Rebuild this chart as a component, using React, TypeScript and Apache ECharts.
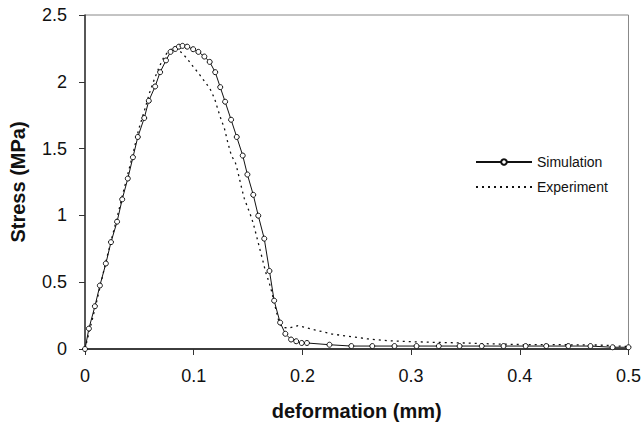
import React, { useEffect, useRef } from "react";
import * as echarts from "echarts";

const simX = [0, 0.0036, 0.0091, 0.0137, 0.0192, 0.0239, 0.0295, 0.0342, 0.0394, 0.0441, 0.0486, 0.0545, 0.0587, 0.0645, 0.0691, 0.0745, 0.0787, 0.083, 0.0864, 0.0897, 0.094, 0.0995, 0.1043, 0.1098, 0.1147, 0.1198, 0.1244, 0.1289, 0.1344, 0.1396, 0.1451, 0.1494, 0.1548, 0.1594, 0.1649, 0.1697, 0.174, 0.1795, 0.1843, 0.1896, 0.1943, 0.1994, 0.2042, 0.2249, 0.245, 0.2643, 0.2847, 0.305, 0.3255, 0.3446, 0.365, 0.385, 0.4054, 0.4243, 0.4446, 0.465, 0.4854, 0.5];
const simY = [0, 0.153, 0.32, 0.475, 0.64, 0.8, 0.953, 1.12, 1.276, 1.435, 1.587, 1.729, 1.858, 1.965, 2.072, 2.16, 2.224, 2.246, 2.263, 2.269, 2.263, 2.244, 2.224, 2.189, 2.149, 2.072, 1.96, 1.851, 1.716, 1.587, 1.448, 1.306, 1.154, 0.998, 0.826, 0.584, 0.362, 0.198, 0.114, 0.071, 0.058, 0.045, 0.045, 0.032, 0.022, 0.022, 0.022, 0.022, 0.022, 0.022, 0.022, 0.022, 0.022, 0.022, 0.022, 0.022, 0.013, 0.013];

const expX = [0, 0.01, 0.02, 0.03, 0.036, 0.0401, 0.0447, 0.0493, 0.0554, 0.0593, 0.0636, 0.0682, 0.0721, 0.0757, 0.0797, 0.085, 0.0933, 0.0995, 0.1056, 0.1107, 0.1147, 0.1193, 0.1223, 0.1253, 0.1282, 0.1314, 0.1346, 0.1384, 0.1405, 0.1444, 0.1466, 0.1521, 0.1548, 0.1578, 0.1609, 0.1642, 0.1663, 0.1694, 0.1718, 0.174, 0.1786, 0.1816, 0.1877, 0.1953, 0.2014, 0.212, 0.2272, 0.2424, 0.2607, 0.2789, 0.3029, 0.3212, 0.3485, 0.3793, 0.4097, 0.4398, 0.4705, 0.4854, 0.4994];
const expY = [0, 0.33, 0.68, 1.0, 1.2, 1.331, 1.48, 1.642, 1.804, 1.916, 2.015, 2.11, 2.177, 2.219, 2.245, 2.25, 2.18, 2.114, 2.052, 1.995, 1.953, 1.873, 1.791, 1.716, 1.653, 1.545, 1.45, 1.393, 1.33, 1.194, 1.125, 1.007, 0.94, 0.846, 0.746, 0.642, 0.572, 0.498, 0.428, 0.348, 0.199, 0.162, 0.157, 0.174, 0.164, 0.142, 0.112, 0.095, 0.075, 0.062, 0.054, 0.05, 0.045, 0.037, 0.032, 0.032, 0.03, 0.025, 0.018];

const seriesNames = ["Simulation", "Experiment"];
const xTitle = "deformation (mm)";
const yTitle = "Stress (MPa)";

const FONT = "'Liberation Sans', Arial, Helvetica, sans-serif";

export default function App() {
  const ref = useRef<HTMLDivElement>(null);
  useEffect(() => {
    document.body.style.margin = "0";
    const chart = echarts.init(ref.current!, null, { renderer: "svg" });
    chart.setOption({
      animation: false,
      backgroundColor: "#ffffff",
      textStyle: { fontFamily: FONT },
      grid: {
        left: 81,
        right: 15,
        top: 15,
        bottom: 75,
        show: true,
        borderColor: "#888888",
        borderWidth: 1,
        backgroundColor: "transparent",
      },
      legend: {
        orient: "vertical",
        left: 470,
        top: 150,
        itemWidth: 56,
        itemHeight: 7,
        itemGap: 11,
        textStyle: { fontFamily: FONT, fontSize: 14, color: "#111" },
        data: [
          { name: seriesNames[0] },
          { name: seriesNames[1], itemStyle: { color: "transparent", borderColor: "transparent", borderWidth: 0 } },
        ],
      },
      xAxis: {
        type: "value",
        min: 0,
        max: 0.5,
        interval: 0.1,
        name: xTitle,
        nameLocation: "middle",
        nameGap: 52,
        nameTextStyle: { fontFamily: FONT, fontSize: 20, fontWeight: "bold", color: "#111" },
        axisLine: { show: true, lineStyle: { color: "#111", width: 1.5 } },
        axisTick: { show: true, inside: false, length: 6, lineStyle: { color: "#333" } },
        axisLabel: { fontFamily: FONT, fontSize: 18, color: "#111", margin: 18 },
        splitLine: { show: false },
      },
      yAxis: {
        type: "value",
        min: 0,
        max: 2.5,
        interval: 0.5,
        name: yTitle,
        nameLocation: "middle",
        nameGap: 57,
        nameRotate: 90,
        nameTextStyle: { fontFamily: FONT, fontSize: 20, fontWeight: "bold", color: "#111" },
        axisLine: { show: true, lineStyle: { color: "#333", width: 1.5 } },
        axisTick: { show: true, inside: false, length: 6, lineStyle: { color: "#333" } },
        axisLabel: { fontFamily: FONT, fontSize: 18, color: "#111", margin: 18 },
        splitLine: { show: false },
      },
      series: [
        {
          name: seriesNames[0],
          type: "line",
          data: simX.map((x, i) => [x, simY[i]]),
          symbol: "circle",
          symbolSize: 5,
          showAllSymbol: true,
          clip: false,
          itemStyle: { color: "#ffffff", borderColor: "#111", borderWidth: 1 },
          lineStyle: { color: "#111", width: 1 },
          z: 3,
        },
        {
          name: seriesNames[1],
          type: "line",
          data: expX.map((x, i) => [x, expY[i]]),
          symbol: "none",
          itemStyle: { color: "#111" },
          lineStyle: { color: "#111", width: 1.3, type: [2, 4] },
          z: 2,
        },
      ],
    });
    return () => chart.dispose();
  }, []);
  return <div ref={ref} style={{ width: 644, height: 426 }} />;
}
